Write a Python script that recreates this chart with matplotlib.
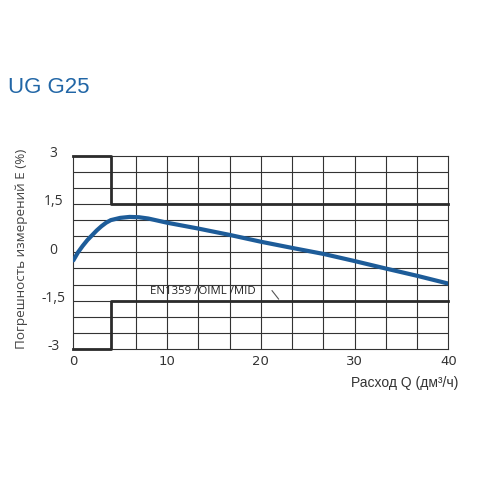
import numpy as np
import matplotlib
matplotlib.use('Agg')
import matplotlib.pyplot as plt
import matplotlib.transforms as mtrans

# curve
flow = [0, 0.5, 1, 1.5, 2, 2.5, 3, 3.5, 4, 5, 6, 7, 8, 10,
        13.3, 16.7, 20, 23.3, 26.7, 30, 33.3, 36.7, 40]
error = [-0.25, 0.0, 0.2, 0.38, 0.53, 0.68, 0.81, 0.92, 1.0, 1.07, 1.1, 1.09, 1.05, 0.92,
         0.74, 0.54, 0.33, 0.14, -0.05, -0.27, -0.5, -0.73, -0.97]

# limit lines (EN1359 / OIML / MID)
limit_x = [0, 4, 4, 40]
limit_up = [3, 3, 1.5, 1.5]
limit_low = [-3, -3, -1.5, -1.5]

grid_x = [10 / 3 * k for k in range(2, 12)]
grid_y = np.arange(-2.5, 3, 0.5)

xticks = [0, 10, 20, 30, 40]
yticks = [3, 1.5, 0, -1.5, -3]
ylabels = ['3', '1,5', '0', '-1,5', '-3']

fig = plt.figure(figsize=(5, 5), dpi=100)
ax = fig.add_axes([0.1466, 0.302, 0.75, 0.3866])
ax.set_xlim(0, 40)
ax.set_ylim(-3, 3)

gc = '#333333'
for gx in grid_x:
    ax.axvline(gx, color=gc, lw=0.8, zorder=1)
for gy in grid_y:
    ax.axhline(gy, color=gc, lw=0.8, zorder=1)
for s in ax.spines.values():
    s.set_color(gc)
    s.set_linewidth(0.8)

ax.plot(limit_x, limit_up, color='#2b2b2b', lw=2.0, clip_on=False, zorder=3)
ax.plot(limit_x, limit_low, color='#2b2b2b', lw=2.0, clip_on=False, zorder=3)

ax.plot(flow, error, color='#1d5c99', lw=3.0, solid_capstyle='round', zorder=4)

ax.text(8.2, -1.2, 'EN1359 /OIML /MID', fontsize=8.2, family=['Open Sans', 'DejaVu Sans'],
        color='#222222', va='center', ha='left', zorder=5)
ax.plot([21.2, 21.9], [-1.19, -1.45], color='#555555', lw=0.8, zorder=5)

ax.set_xticks(xticks)
ax.set_xticklabels([str(t) for t in xticks], fontsize=9.5, color='#333333')
ax.tick_params(axis='x', length=0, pad=4)

ax.set_yticks(yticks)
ax.set_yticklabels(ylabels, fontsize=10, color='#333333', family=['Open Sans', 'DejaVu Sans'])
ax.tick_params(axis='y', length=0, pad=14.5)
up = mtrans.ScaledTranslation(0, 3 / 72, fig.dpi_scale_trans)
for lab in ax.get_yticklabels():
    lab.set_horizontalalignment('center')
    lab.set_transform(lab.get_transform() + up)

fig.text(0.044, 0.503, 'Погрешность измерений E (%)', rotation=90, ha='center', va='center',
         fontsize=9.7, color='#444444', family=['Open Sans', 'DejaVu Sans'])
fig.text(0.916, 0.226, 'Расход Q (дм³/ч)', ha='right', va='baseline', fontsize=10,
         color='#333333', family=['Liberation Sans Narrow', 'Liberation Sans', 'DejaVu Sans'])

fig.text(0.016, 0.8146, 'UG G25', ha='left', va='baseline', fontsize=16,
         color='#2166a6', family=['Liberation Sans', 'DejaVu Sans'])

fig.savefig('out.png', dpi=100, facecolor='white')
